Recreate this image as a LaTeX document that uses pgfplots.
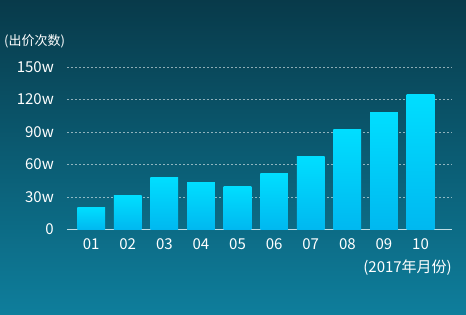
\documentclass[border=0pt]{standalone}
\usepackage{pgfplots}
\pgfplotsset{compat=1.18}
\usepackage{fontspec}
\setmainfont{Noto Sans CJK SC}
\definecolor{bgtop}{RGB}{8,58,74}
\definecolor{bgbot}{RGB}{14,126,156}
\definecolor{bartop}{RGB}{0,222,255}
\definecolor{barbot}{RGB}{0,184,240}
\definecolor{axcol}{RGB}{190,220,228}
\begin{document}
\begin{tikzpicture}[x=1pt,y=1pt]
\useasboundingbox (0pt,0pt) rectangle (466pt,315pt);
\shade[top color=bgtop, bottom color=bgbot] (0pt,0pt) rectangle (466pt,315pt);
\begin{axis}[
  at={(67pt,85.5pt)}, anchor=south west,
  scale only axis, width=385pt, height=162.5pt,
  xmin=-0.66, xmax=9.86, ymin=0, ymax=150,
  axis x line*=bottom, axis y line*=left,
  y axis line style={draw=none},
  x axis line style={draw=axcol, line width=0.8pt, -},
  ymajorgrids,
  no markers,
  major grid style={draw=white, opacity=0.55, line width=0.6pt, dash pattern=on 2pt off 2pt},
  ytick={0,30,60,90,120,150},
  yticklabels={0,30w,60w,90w,120w,150w},
  xtick={0,1,2,3,4,5,6,7,8,9},
  xticklabels={01,02,03,04,05,06,07,08,09,10},
  major tick length=0pt,
  tick label style={font=\fontsize{15}{15}\selectfont, text=white, inner sep=0pt},
  yticklabel style={anchor=east, xshift=-13pt},
  xticklabel style={anchor=north, yshift=-9pt},
  /pgf/number format/assume math mode=true,
  every axis plot/.append style={ybar, bar width=27.7pt, bar shift=0pt, draw=none, mark=none, top color=bartop, bottom color=barbot},
]
\addplot coordinates {(0,20.5)};
\addplot coordinates {(1,31)};
\addplot coordinates {(2,47.8)};
\addplot coordinates {(3,43.2)};
\addplot coordinates {(4,40)};
\addplot coordinates {(5,51.5)};
\addplot coordinates {(6,67)};
\addplot coordinates {(7,92.5)};
\addplot coordinates {(8,108.2)};
\addplot coordinates {(9,124.7)};
\end{axis}
\node[anchor=west, text=white, font=\fontsize{13}{13}\selectfont, inner sep=0pt] at (4pt,273.5pt) {(出价次数)};
\node[anchor=east, text=white, font=\fontsize{15}{15}\selectfont, inner sep=0pt] at (452pt,47pt) {(2017年月份)};
\end{tikzpicture}
\end{document}
